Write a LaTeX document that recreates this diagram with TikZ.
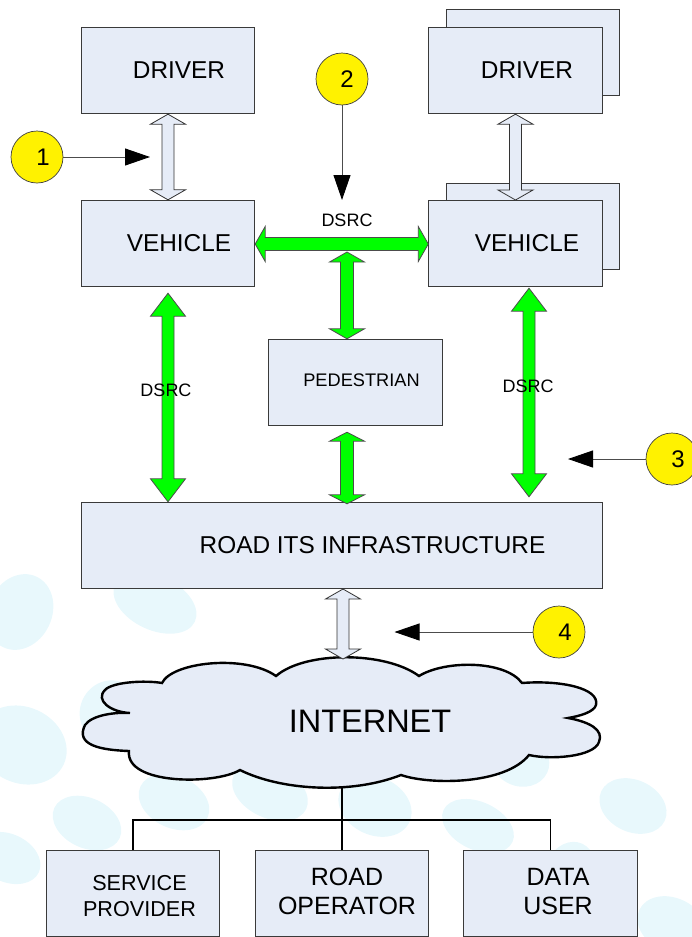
\documentclass[tikz,border=0pt]{standalone}
\usepackage{fontspec}
\setmainfont{Liberation Sans}
\usetikzlibrary{calc,arrows.meta}
\definecolor{boxfill}{HTML}{E6ECF7}
\definecolor{boxline}{HTML}{3A3A3A}
\definecolor{blob}{HTML}{E8F8FC}
\newcommand\offtext[3]{\raisebox{#2}[0pt][0pt]{\makebox[0pt][c]{\hspace*{#1}\hspace*{#1}#3}}}
\newcommand\twolines[2]{\begin{tabular}{@{}c@{}}#1\\#2\end{tabular}}
\newcommand\blockarrow[6][]{\draw[#1] (#2)
  -- ($(#2)!#6pt!(#3)!#5pt!90:(#3)$) -- ($(#2)!#6pt!(#3)!#4pt!90:(#3)$)
  -- ($(#3)!#6pt!(#2)!-#4pt!90:(#2)$) -- ($(#3)!#6pt!(#2)!-#5pt!90:(#2)$)
  -- (#3)
  -- ($(#3)!#6pt!(#2)!#5pt!90:(#2)$) -- ($(#3)!#6pt!(#2)!#4pt!90:(#2)$)
  -- ($(#2)!#6pt!(#3)!-#4pt!90:(#3)$) -- ($(#2)!#6pt!(#3)!-#5pt!90:(#3)$)
  -- cycle;}
\tikzset{
  box/.style={draw=boxline,fill=boxfill,line width=0.9pt,inner sep=0pt,minimum width=173.5pt,minimum height=86.5pt,font=\fontsize{24.4}{24.4}\selectfont},
  smallbox/.style={box,font=\fontsize{21.6}{26}\selectfont},
  tallbox/.style={box,font=\fontsize{25}{29}\selectfont},
  badge/.style={circle,draw=black!75,fill=yellow,line width=0.7pt,minimum size=52pt,inner sep=0pt,font=\fontsize{24}{24}\selectfont},
  pale/.style={draw=black!80,fill=boxfill,line width=0.8pt,line join=miter},
  greenarrow/.style={draw=black!70,fill=green,line width=0.8pt,line join=miter},
  pointer/.style={draw=black!70,line width=0.9pt,-{Triangle[length=25pt,width=17pt,color=black,fill=black]}},
  wire/.style={draw=black,line width=1.5pt},
  dsrc/.style={inner sep=0pt,font=\fontsize{18}{18}\selectfont},
  bg/.style={fill=blob,draw=none},
}
\begin{document}
\begin{tikzpicture}[x=1pt,y=-1pt]
\useasboundingbox (0,0) rectangle (691,937);
% background blobs
\foreach \cx/\cy/\rx/\ry in {20/612/32/39,155/603/44/27,110/712/30/32,22/745/46/38,87/823/36/25,8/858/34/24,174/802/37/26,270/792/40/26,375/806/38/29,478/826/38/24,633/806/35/26,520/760/30/26,672/925/36/27,570/870/24/29}
  \fill[bg] (\cx,\cy) ellipse [x radius=\rx,y radius=\ry,rotate=-25];
% back boxes
\node[box] (drvback) at (533,52.5) {};
\node[box] (vehback) at (533,226.5) {};
% main boxes
\node[box] (drvL) at (168,70.5) {\offtext{11pt}{-8pt}{DRIVER}};
\node[box] (vehL) at (168,243.5) {\offtext{11pt}{-8pt}{VEHICLE}};
\node[box] (drvR) at (515.5,70.5) {\offtext{11.5pt}{-8pt}{DRIVER}};
\coordinate (vehRtop) at (515.5,200);
\blockarrow[pale]{drvR.south}{vehRtop}{6}{17.5}{10}
\node[box] (vehR) at (515.5,243.5) {\offtext{11.5pt}{-8pt}{VEHICLE}};
\node[box,minimum width=174pt,font=\fontsize{18.2}{18}\selectfont] (ped) at (355,382.5) {\offtext{6.5pt}{-3.5pt}{PEDESTRIAN}};
\node[box,minimum width=521pt] (road) at (341.5,545.5) {\offtext{31pt}{-7.5pt}{ROAD ITS INFRASTRUCTURE}};
\node[smallbox] (srv) at (133,893.5) {\offtext{6.5pt}{-9.5pt}{\twolines{SERVICE}{PROVIDER}}};
\node[tallbox] (opr) at (342,893.5) {\offtext{5pt}{-7.2pt}{\twolines{ROAD}{OPERATOR}}};
\node[tallbox] (usr) at (550.5,893.5) {\offtext{7.5pt}{-7.2pt}{\twolines{DATA}{USER}}};
% cloud
\draw[fill=boxfill,draw=black,line width=2.4pt,line join=miter]
  (162,683) .. controls (172,662) and (245,654) .. (276,676)
  .. controls (305,651) and (385,651) .. (419,676)
  .. controls (445,660) and (505,660) .. (522,683)
  .. controls (560,680) and (600,688) .. (596,705)
  .. controls (594,712) and (580,716) .. (568,718)
  .. controls (590,722) and (604,730) .. (599,742)
  .. controls (594,757) and (550,760) .. (529,755)
  .. controls (505,785) and (430,785) .. (401,775)
  .. controls (350,795) and (280,790) .. (240,770)
  .. controls (215,785) and (125,785) .. (129,751)
  .. controls (100,750) and (75,745) .. (85,725)
  .. controls (92,715) and (115,712) .. (130,713)
  .. controls (110,712) and (95,700) .. (105,690)
  .. controls (112,682) and (145,680) .. (162,683) -- cycle;
\node[inner sep=0pt,font=\fontsize{32.5}{32}\selectfont] (inet) at (370,721) {INTERNET};
\coordinate (cloudtop) at (343,659);
\coordinate (cloudbot) at (342,787);
\coordinate (roadexit) at (343,589);
% wires
\draw[wire] (cloudbot) -- (opr.north);
\coordinate (bus) at (342,820);
\draw[wire] (srv.north) -- (srv.north |- bus) -- (usr.north |- bus) -- (usr.north);
% pale arrows
\blockarrow[pale]{drvL.south}{vehL.north}{6}{17.5}{10}
\blockarrow[pale]{roadexit}{cloudtop}{6}{17.5}{10}
% green arrows
\coordinate (gLa) at ($(vehL.south)+(0,6)$);
\coordinate (gLb) at (vehL.south |- road.north);
\coordinate (gRa) at ($(vehR.south)+(13.5,1)$);
\coordinate (gRb) at ($(vehR.south |- road.north)+(13.5,-5)$);
\coordinate (gHa) at ($(vehL.east)+(0,0.5)$);
\coordinate (gHb) at ($(vehR.west)+(0,0.5)$);
\coordinate (gMa) at (347,252);
\coordinate (gMb) at (ped.north -| gMa);
\coordinate (gNa) at ($(ped.south -| gMa)+(0,6)$);
\coordinate (gNb) at ($(road.north -| gMa)+(0,2)$);
\blockarrow[greenarrow]{gLa}{gLb}{6}{17.5}{23}
\blockarrow[greenarrow]{gRa}{gRb}{6}{17.5}{23}
\blockarrow[greenarrow]{gHa}{gHb}{6.5}{17.5}{10}
\blockarrow[greenarrow]{gMa}{gMb}{6.5}{17.5}{10}
\blockarrow[greenarrow]{gNa}{gNb}{6.5}{17.5}{9}
% DSRC labels
\node[dsrc] (dsrcH) at (347,220.5) {DSRC};
\node[dsrc] (dsrcL) at (166,390.5) {DSRC};
\node[dsrc] (dsrcR) at (528,386) {DSRC};
% badges
\node[badge] (b1) at (37,157) {\offtext{6pt}{-8.5pt}{1}};
\node[badge] (b2) at (342,79) {\offtext{5pt}{-8.5pt}{2}};
\node[badge] (b3) at (672,459) {\offtext{6pt}{-8.5pt}{3}};
\node[badge] (b4) at (559,632) {\offtext{6pt}{-8.5pt}{4}};
\coordinate (p1) at (150,157);
\coordinate (p2) at (342,200);
\coordinate (p3) at (568,459);
\coordinate (p4) at (394.5,632);
\draw[pointer] (b1) -- (p1);
\draw[pointer] (b2) -- (p2);
\draw[pointer] (b3) -- (p3);
\draw[pointer] (b4) -- (p4);
\end{tikzpicture}
\end{document}
